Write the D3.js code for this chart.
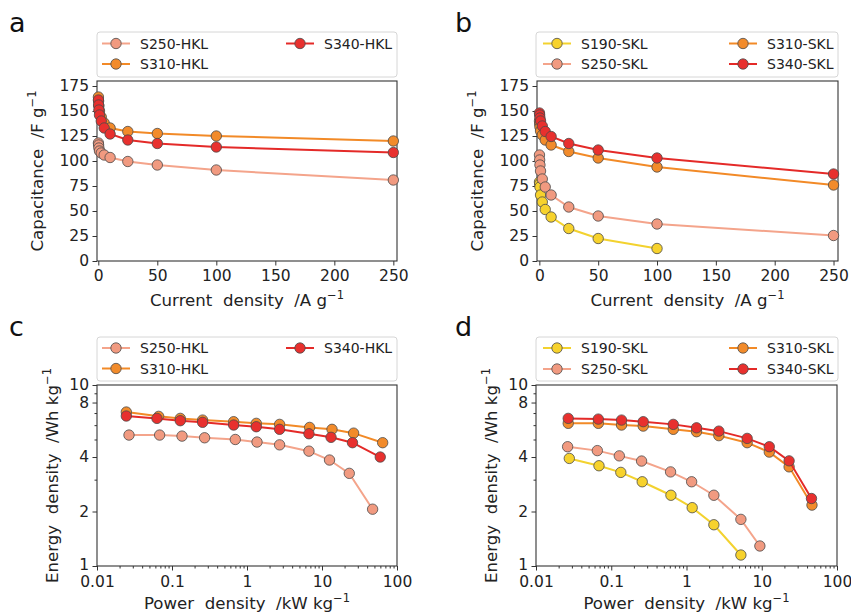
<!DOCTYPE html>
<html><head><meta charset="utf-8">
<script src="https://cdn.jsdelivr.net/npm/d3@7"></script>
<style>
html,body{margin:0;padding:0;background:#fff;}
svg{display:block;font-family:"DejaVu Sans",sans-serif;}
text{white-space:pre;}
</style></head>
<body>
<svg id="chart" width="851" height="614"></svg>
<script>
// ---------- DATA ----------
const currentDensity = [0.1, 0.25, 0.5, 1, 2.5, 5, 10, 25, 50, 100, 250];
const currentDensityS190 = [0.1, 0.25, 0.5, 1, 2.5, 5, 10, 25, 50, 100];

const capS250HKL = [118, 116, 113, 110, 108, 106, 103.5, 99.5, 96, 91, 81];
const capS310HKL = [164, 160, 155, 150, 144, 138, 133, 129.5, 127.5, 125, 120];
const capS340HKL = [161, 156, 151, 146, 140, 133, 127, 121, 117.5, 114, 108.5];

const capS190SKL = [79, 77, 74, 66, 59, 51.5, 44, 32.5, 22.5, 12.5];
const capS250SKL = [106, 101, 96, 90, 82, 74, 66, 54, 45, 37, 25.5];
const capS310SKL = [140, 137, 134, 130, 126, 121, 116, 109.5, 103, 94, 76];
const capS340SKL = [148, 146, 143, 140, 135, 129.5, 124.5, 117.5, 111, 103, 87];

const powS250HKL = [0.0267, 0.0684, 0.136, 0.272, 0.698, 1.36, 2.72, 6.7, 12.6, 23.1, 47.3];
const engS250HKL = [5.29, 5.29, 5.22, 5.11, 5.0, 4.84, 4.67, 4.31, 3.85, 3.25, 2.06];
const powS310HKL = [0.0246, 0.0664, 0.129, 0.256, 0.664, 1.33, 2.72, 6.84, 13.6, 26.4, 64.4];
const engS310HKL = [7.09, 6.71, 6.54, 6.40, 6.27, 6.14, 6.06, 5.83, 5.69, 5.42, 4.80];
const powS340HKL = [0.0246, 0.063, 0.129, 0.256, 0.664, 1.33, 2.72, 6.7, 13.2, 25.5, 59.8];
const engS340HKL = [6.74, 6.54, 6.35, 6.22, 6.01, 5.88, 5.69, 5.38, 5.14, 4.80, 4.0];

const powS190SKL = [0.0277, 0.0687, 0.134, 0.258, 0.621, 1.19, 2.31, 5.28];
const engS190SKL = [3.93, 3.58, 3.29, 2.92, 2.46, 2.10, 1.69, 1.15];
const powS250SKL = [0.0263, 0.0653, 0.128, 0.253, 0.614, 1.17, 2.31, 5.28, 9.44];
const engS250SKL = [4.56, 4.34, 4.06, 3.80, 3.31, 2.92, 2.46, 1.81, 1.29];
const powS310SKL = [0.0268, 0.0673, 0.137, 0.266, 0.667, 1.36, 2.69, 6.4, 12.6, 23.1, 46.5];
const engS310SKL = [6.14, 6.14, 6.01, 5.93, 5.69, 5.52, 5.25, 4.80, 4.26, 3.53, 2.17];
const powS340SKL = [0.0268, 0.0673, 0.137, 0.266, 0.667, 1.36, 2.69, 6.4, 12.6, 23.1, 45.8];
const engS340SKL = [6.54, 6.48, 6.40, 6.27, 6.06, 5.80, 5.56, 5.07, 4.56, 3.81, 2.36];

const linTicksX = [0, 50, 100, 150, 200, 250];
const linTicksY = [0, 25, 50, 75, 100, 125, 150, 175];
const logTicksX = [0.01, 0.1, 1, 10, 100];
const logTickLabelsX = ["0.01", "0.1", "1", "10", "100"];
const logTicksY = [1, 2, 4, 8, 10];

const colors = {
  S190: {line: "#f3d22f", fill: "#f7d22c"},
  S250: {line: "#f4a48b", fill: "#f19a80"},
  S310: {line: "#f28a27", fill: "#f28b2b"},
  S340: {line: "#e42a28", fill: "#e8302e"}
};

// ---------- DRAW ----------
const svg = d3.select("#chart");
const fontTick = 15.5, fontLabel = 16.6, fontLegend = 14;

function zip(xs, ys) { return xs.map((x, i) => [x, ys[i]]); }

function drawPanel(p) {
  const g = svg.append("g");
  const {x0, x1, y0, y1} = p.rect;
  const xs = p.xScale.range([x0, x1]);
  const ys = p.yScale.range([y1, y0]);

  if (p.xMinor) {
    g.append("g").attr("transform", `translate(0,${y1})`)
      .call(d3.axisBottom(xs).tickValues(p.xMinor).tickSize(2.5).tickFormat(""))
      .call(a => a.select(".domain").remove())
      .call(a => a.selectAll("line").attr("stroke", "#333"));
  }
  if (p.yMinor) {
    g.append("g").attr("transform", `translate(${x0},0)`)
      .call(d3.axisLeft(ys).tickValues(p.yMinor).tickSize(2.5).tickFormat(""))
      .call(a => a.select(".domain").remove())
      .call(a => a.selectAll("line").attr("stroke", "#333"));
  }
  const ax = g.append("g").attr("transform", `translate(0,${y1})`)
    .call(d3.axisBottom(xs).tickValues(p.xTicks).tickSize(4.5).tickPadding(p.xPad || 4)
      .tickFormat(p.xFormat || (d => d)));
  const ay = g.append("g").attr("transform", `translate(${x0},0)`)
    .call(d3.axisLeft(ys).tickValues(p.yTicks).tickSize(4.5).tickPadding(3.5)
      .tickFormat(d => d));
  [ax, ay].forEach(a => {
    a.select(".domain").remove();
    a.selectAll("line").attr("stroke", "#333");
    a.selectAll("text").attr("fill", "#222").style("font-size", fontTick + "px")
      .style("font-family", '"DejaVu Sans",sans-serif');
  });
  if (p.yFirstShift) {
    ay.selectAll("text").filter(d => d === p.yTicks[0]).attr("dy", "0.2em");
  }
  g.append("rect").attr("x", x0).attr("y", y0).attr("width", x1 - x0).attr("height", y1 - y0)
    .attr("fill", "none").attr("stroke", "#333").attr("stroke-width", 1.1);

  const clip = "clip" + p.letter;
  svg.append("clipPath").attr("id", clip).append("rect")
    .attr("x", x0 - 8).attr("y", y0 - 8).attr("width", x1 - x0 + 16).attr("height", y1 - y0 + 16);
  const sg = g.append("g").attr("clip-path", `url(#${clip})`);
  const line = d3.line().x(d => xs(d[0])).y(d => ys(d[1]));
  p.series.forEach(s => {
    const c = colors[s.key];
    const pts = zip(s.x, s.y);
    sg.append("path").attr("d", line(pts)).attr("fill", "none")
      .attr("stroke", c.line).attr("stroke-width", 2);
    sg.selectAll(null).data(pts).enter().append("circle")
      .attr("cx", d => xs(d[0])).attr("cy", d => ys(d[1])).attr("r", 5.2)
      .attr("fill", c.fill).attr("stroke", "#4a4a4a").attr("stroke-width", 0.8);
  });

  const L = p.legend;
  g.append("rect").attr("x", L.x0).attr("y", L.y0).attr("width", L.x1 - L.x0).attr("height", L.y1 - L.y0)
    .attr("rx", 3).attr("fill", "#fff").attr("fill-opacity", 0.8).attr("stroke", "#d6d6d6").attr("stroke-width", 1);
  p.series.forEach((s, i) => {
    const col = Math.floor(i / 2), row = i % 2;
    const mx = L.cols[col], my = L.rows[row];
    const c = colors[s.key];
    g.append("line").attr("x1", mx - 14).attr("x2", mx + 14).attr("y1", my).attr("y2", my)
      .attr("stroke", c.line).attr("stroke-width", 2);
    g.append("circle").attr("cx", mx).attr("cy", my).attr("r", 5.2)
      .attr("fill", c.fill).attr("stroke", "#4a4a4a").attr("stroke-width", 0.8);
    g.append("text").attr("x", mx + 24).attr("y", my + 5).attr("fill", "#222")
      .style("font-size", fontLegend + "px").text(s.name);
  });

  const xl = g.append("text").attr("x", (x0 + x1) / 2).attr("y", p.xLabelY)
    .attr("text-anchor", "middle").attr("fill", "#222").style("font-size", fontLabel + "px");
  xl.append("tspan").text(p.xLabel[0]);
  xl.append("tspan").attr("dy", -7).style("font-size", "11.5px").text("−1");
  const yl = g.append("text")
    .attr("transform", `translate(${p.yLabelX},${(y0 + y1) / 2}) rotate(-90)`)
    .attr("text-anchor", "middle").attr("fill", "#222").style("font-size", fontLabel + "px");
  yl.append("tspan").text(p.yLabel[0]);
  yl.append("tspan").attr("dy", -7).style("font-size", "11.5px").text("−1");

  g.append("text").attr("x", p.letterPos[0]).attr("y", p.letterPos[1])
    .attr("fill", "#111").style("font-size", "27px").style("font-family", '"DejaVu Sans",sans-serif')
    .text(p.letter);
}

const minorLogX = [];
[0.01, 0.1, 1, 10].forEach(d => { for (let k = 2; k <= 9; k++) minorLogX.push(d * k); });
const minorLogY = [3, 5, 6, 7, 9];

drawPanel({
  letter: "a", letterPos: [9, 32],
  rect: {x0: 97, x1: 397, y0: 81, y1: 261},
  xScale: d3.scaleLinear().domain([-1.1, 253.1]),
  yScale: d3.scaleLinear().domain([0, 180]),
  xTicks: linTicksX, yTicks: linTicksY,
  series: [
    {key: "S250", name: "S250-HKL", x: currentDensity, y: capS250HKL},
    {key: "S310", name: "S310-HKL", x: currentDensity, y: capS310HKL},
    {key: "S340", name: "S340-HKL", x: currentDensity, y: capS340HKL}
  ],
  legend: {x0: 97, x1: 397, y0: 32, y1: 77, cols: [116, 300], rows: [43.5, 64]},
  xLabel: ["Current  density  /A g"], xLabelY: 306,
  yLabel: ["Capacitance  /F g"], yLabelX: 43
});
drawPanel({
  letter: "b", letterPos: [455, 32],
  rect: {x0: 537, x1: 838, y0: 81, y1: 261},
  xScale: d3.scaleLinear().domain([-2, 253.8]),
  yScale: d3.scaleLinear().domain([0, 180]),
  xTicks: linTicksX, yTicks: linTicksY,
  series: [
    {key: "S190", name: "S190-SKL", x: currentDensityS190, y: capS190SKL},
    {key: "S250", name: "S250-SKL", x: currentDensity, y: capS250SKL},
    {key: "S310", name: "S310-SKL", x: currentDensity, y: capS310SKL},
    {key: "S340", name: "S340-SKL", x: currentDensity, y: capS340SKL}
  ],
  legend: {x0: 536, x1: 838, y0: 32, y1: 77, cols: [557, 743], rows: [43.5, 64]},
  xLabel: ["Current  density  /A g"], xLabelY: 306,
  yLabel: ["Capacitance  /F g"], yLabelX: 483
});
drawPanel({
  letter: "c", letterPos: [9, 336],
  rect: {x0: 97, x1: 397, y0: 385, y1: 566},
  xScale: d3.scaleLog().domain([0.01, 100]),
  yScale: d3.scaleLog().domain([1, 10]),
  xTicks: logTicksX, yTicks: logTicksY,
  xFormat: (d, i) => logTickLabelsX[i], xPad: 5,
  xMinor: minorLogX, yMinor: minorLogY, yFirstShift: true,
  series: [
    {key: "S250", name: "S250-HKL", x: powS250HKL, y: engS250HKL},
    {key: "S310", name: "S310-HKL", x: powS310HKL, y: engS310HKL},
    {key: "S340", name: "S340-HKL", x: powS340HKL, y: engS340HKL}
  ],
  legend: {x0: 97, x1: 397, y0: 337, y1: 381, cols: [116, 300], rows: [348, 368.5]},
  xLabel: ["Power  density  /kW kg"], xLabelY: 609,
  yLabel: ["Energy  density  /Wh kg"], yLabelX: 58
});
drawPanel({
  letter: "d", letterPos: [455, 336],
  rect: {x0: 536, x1: 837, y0: 385, y1: 566},
  xScale: d3.scaleLog().domain([0.01, 100]),
  yScale: d3.scaleLog().domain([1, 10]),
  xTicks: logTicksX, yTicks: logTicksY,
  xFormat: (d, i) => logTickLabelsX[i], xPad: 5,
  xMinor: minorLogX, yMinor: minorLogY, yFirstShift: true,
  series: [
    {key: "S190", name: "S190-SKL", x: powS190SKL, y: engS190SKL},
    {key: "S250", name: "S250-SKL", x: powS250SKL, y: engS250SKL},
    {key: "S310", name: "S310-SKL", x: powS310SKL, y: engS310SKL},
    {key: "S340", name: "S340-SKL", x: powS340SKL, y: engS340SKL}
  ],
  legend: {x0: 536, x1: 838, y0: 337, y1: 381, cols: [557, 743], rows: [348, 369]},
  xLabel: ["Power  density  /kW kg"], xLabelY: 609,
  yLabel: ["Energy  density  /Wh kg"], yLabelX: 497
});
</script>
</body></html>
